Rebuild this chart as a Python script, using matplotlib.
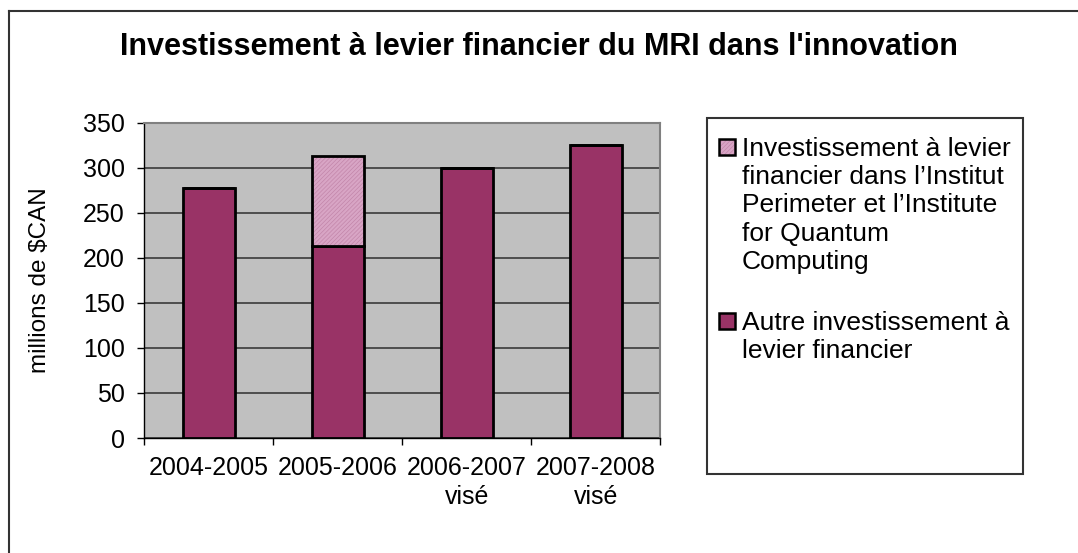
import matplotlib
matplotlib.use('Agg')
import matplotlib.pyplot as plt
from matplotlib.patches import Rectangle
from matplotlib.lines import Line2D

plt.rcParams['font.family'] = ['Liberation Sans', 'DejaVu Sans']
plt.rcParams['hatch.linewidth'] = 0.5

categories = ['2004-2005', '2005-2006', '2006-2007\nvisé', '2007-2008\nvisé']
autre = [277, 213, 300, 325]
perimeter = [0, 100, 0, 0]

label_perimeter = ("Investissement à levier\nfinancier dans l’Institut\n"
                   "Perimeter et l’Institute\nfor Quantum\nComputing")
label_autre = "Autre investissement à\nlevier financier"
title = "Investissement à levier financier du MRI dans l'innovation"
y_label = 'millions de $CAN'

col_autre = '#993366'
col_peri = '#d8a5c5'
col_peri_hatch = '#c286aa'

W, H = 1078, 553
fig = plt.figure(figsize=(W / 100, H / 100), dpi=100)
ax = fig.add_axes([144.4 / W, 1 - 438 / H, (660.4 - 144.4) / W, (438 - 122.5) / H])

x = list(range(len(categories)))
bw = 0.405
ax.bar(x, autre, width=bw, color=col_autre, edgecolor='black', linewidth=2, zorder=3)
ax.bar(x, perimeter, width=bw, bottom=autre, color=col_peri, edgecolor=col_peri_hatch,
       hatch='////////', linewidth=0, zorder=3)
ax.bar(x, perimeter, width=bw, bottom=autre, fill=False, edgecolor='black', linewidth=2, zorder=4)

ax.set_facecolor('#c0c0c0')
ax.set_xlim(-0.5, len(categories) - 0.5)
ax.set_ylim(0, 350)
ax.set_yticks(range(0, 351, 50))
ax.yaxis.grid(True, color='#3a3a3a', linewidth=1.2, zorder=1)
ax.set_axisbelow(True)

ax.set_xticks([i - 0.5 for i in range(len(categories) + 1)])
ax.set_xticklabels([])
ax.set_xticks(x, minor=True)
ax.set_xticklabels(categories, minor=True, linespacing=1.27)
ax.tick_params(axis='x', which='major', length=5, width=1, direction='out')
ax.tick_params(axis='x', which='minor', length=0, pad=13, labelsize=18)
ax.tick_params(axis='y', length=5, width=1, direction='out', labelsize=18, pad=9)

for s in ['top', 'right']:
    ax.spines[s].set_color('#808080')
    ax.spines[s].set_linewidth(1.5)
for s in ['left', 'bottom']:
    ax.spines[s].set_color('black')
    ax.spines[s].set_linewidth(1)

fig.text(40 / W, 1 - 280 / H, y_label, rotation=90, ha='center', va='center', fontsize=17.5)

fig.text(0.5, 1 - 47 / H, title, ha='center', va='center', fontsize=22, fontweight='bold')

# legend box
fig.patches.append(Rectangle((707 / W, 1 - 474 / H), (1023 - 707) / W, (474 - 118) / H,
                             transform=fig.transFigure, fill=False, edgecolor='#333333',
                             linewidth=1.5))
# legend entries: label, colour, hatch, square top, text top (pixels)
legend_items = [
    (label_perimeter, col_peri, '////////', 139, 137),
    (label_autre, col_autre, None, 313, 311),
]
for text, fc, hatch, sq_top, top in legend_items:
    if hatch:
        fig.patches.append(Rectangle((719 / W, 1 - (sq_top + 16) / H), 16 / W, 16 / H,
                                     transform=fig.transFigure, facecolor=fc,
                                     edgecolor=col_peri_hatch, hatch=hatch, linewidth=0))
    else:
        fig.patches.append(Rectangle((719 / W, 1 - (sq_top + 16) / H), 16 / W, 16 / H,
                                     transform=fig.transFigure, facecolor=fc, linewidth=0))
    fig.patches.append(Rectangle((719 / W, 1 - (sq_top + 16) / H), 16 / W, 16 / H,
                                 transform=fig.transFigure, fill=False, edgecolor='black',
                                 linewidth=1.8))
    fig.text(742 / W, 1 - top / H, text, ha='left', va='top', fontsize=19,
             linespacing=1.22)

# outer chart border (top and left visible)
fig.lines.append(Line2D([8.5 / W, 1.0], [1 - 10.5 / H, 1 - 10.5 / H], transform=fig.transFigure,
                        color='#333333', linewidth=1.5))
fig.lines.append(Line2D([8.5 / W, 8.5 / W], [0, 1 - 10.5 / H], transform=fig.transFigure,
                        color='#333333', linewidth=1.5))

fig.savefig('out.png', dpi=100)
